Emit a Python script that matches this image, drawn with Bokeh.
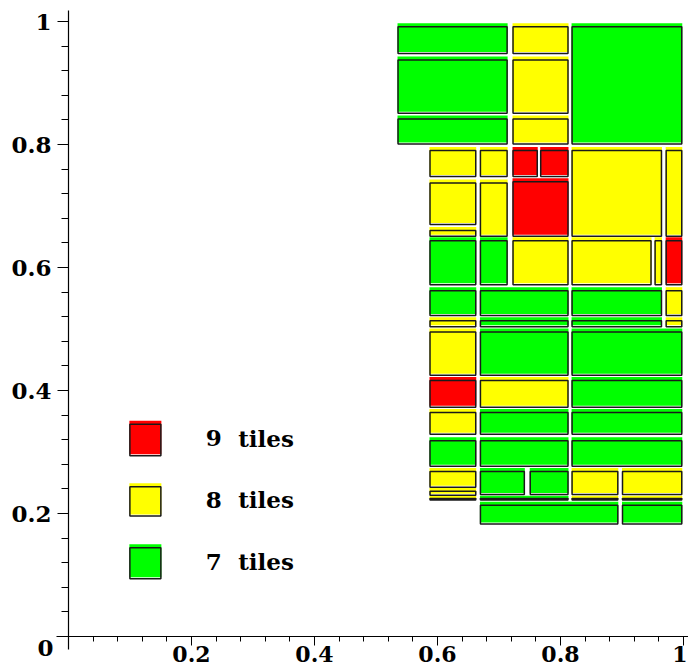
from bokeh.plotting import figure
from bokeh.models import Range1d, FixedTicker, Label, ColumnDataSource
from bokeh.core.properties import value
from bokeh.embed import file_html
from bokeh.resources import INLINE

# ---- data: mosaic cells (left, right, bottom, top) and number of tiles ----
cell_x0 = [0.535, 0.535, 0.535, 0.722, 0.722, 0.722, 0.818,
           0.587, 0.669, 0.722, 0.767, 0.818, 0.971,
           0.587, 0.587, 0.669, 0.722,
           0.587, 0.669, 0.722, 0.818, 0.953, 0.971,
           0.587, 0.669, 0.818, 0.971,
           0.587, 0.669, 0.818, 0.971,
           0.587, 0.669, 0.818,
           0.587, 0.669, 0.818,
           0.587, 0.669, 0.818,
           0.587, 0.669, 0.818,
           0.587, 0.669, 0.750, 0.818, 0.900,
           0.587, 0.587, 0.669, 0.818, 0.900,
           0.669, 0.900]
cell_x1 = [0.714, 0.714, 0.714, 0.813, 0.813, 0.813, 0.998,
           0.663, 0.714, 0.763, 0.813, 0.965, 0.998,
           0.663, 0.663, 0.714, 0.813,
           0.663, 0.714, 0.813, 0.948, 0.965, 0.998,
           0.663, 0.813, 0.965, 0.998,
           0.663, 0.813, 0.965, 0.998,
           0.663, 0.813, 0.998,
           0.663, 0.813, 0.998,
           0.663, 0.813, 0.998,
           0.663, 0.813, 0.998,
           0.663, 0.742, 0.813, 0.894, 0.998,
           0.663, 0.663, 0.813, 0.894, 0.998,
           0.894, 0.998]
cell_y0 = [0.947, 0.850, 0.800, 0.947, 0.850, 0.800, 0.800,
           0.747, 0.747, 0.747, 0.747, 0.650, 0.650,
           0.669, 0.650, 0.650, 0.650,
           0.571, 0.571, 0.571, 0.571, 0.571, 0.571,
           0.521, 0.521, 0.521, 0.521,
           0.503, 0.503, 0.503, 0.503,
           0.424, 0.424, 0.424,
           0.372, 0.372, 0.372,
           0.328, 0.328, 0.328,
           0.276, 0.276, 0.276,
           0.242, 0.230, 0.230, 0.230, 0.230,
           0.229, 0.221, 0.221, 0.221, 0.221,
           0.182, 0.182]
cell_y1 = [0.997, 0.943, 0.847, 0.997, 0.943, 0.847, 0.997,
           0.796, 0.796, 0.796, 0.796, 0.796, 0.796,
           0.743, 0.666, 0.743, 0.745,
           0.649, 0.649, 0.649, 0.649, 0.649, 0.649,
           0.568, 0.568, 0.568, 0.568,
           0.519, 0.519, 0.519, 0.519,
           0.501, 0.501, 0.501,
           0.422, 0.422, 0.422,
           0.370, 0.370, 0.370,
           0.324, 0.324, 0.324,
           0.274, 0.274, 0.274, 0.274, 0.274,
           0.242, 0.229, 0.229, 0.229, 0.229,
           0.219, 0.219]
cell_tiles = [7, 7, 7, 8, 8, 8, 7,
              8, 8, 9, 9, 8, 8,
              8, 8, 8, 9,
              7, 7, 8, 8, 8, 9,
              7, 7, 7, 8,
              8, 7, 7, 8,
              8, 7, 7,
              9, 8, 7,
              8, 7, 7,
              7, 7, 7,
              8, 7, 7, 8, 8,
              8, 8, 7, 8, 8,
              7, 7]

# legend
legend_tiles = [9, 8, 7]
legend_numbers = ["9", "8", "7"]
legend_word = "tiles"
legend_x0 = [0.099, 0.099, 0.099]
legend_x1 = [0.151, 0.151, 0.151]
legend_y0 = [0.293, 0.195, 0.093]
legend_y1 = [0.351, 0.249, 0.150]

# axes ticks
major_ticks = [0.2, 0.4, 0.6, 0.8, 1.0]
minor_ticks = [round(0.04 * i, 2) for i in range(26)]

COLORS = {9: "#ff0000", 8: "#ffff00", 7: "#00ff00"}

PX = 1.0 / 615  # one screen pixel in data units

p = figure(width=688, height=671, output_backend="svg", toolbar_location=None,
           x_range=Range1d(-68 * PX, 620 * PX), y_range=Range1d(-35 * PX, 636 * PX),
           min_border=0, min_border_left=0, min_border_right=0,
           min_border_top=0, min_border_bottom=0)
p.grid.visible = False
p.outline_line_color = None
p.background_fill_color = "white"


def draw_cells(x0, x1, y0, y1, tiles):
    fills = ColumnDataSource(dict(
        left=x0, right=x1,
        bottom=[b + 2 * PX for b in y0], top=y1,
        color=[COLORS[t] for t in tiles]))
    p.quad(left="left", right="right", bottom="bottom", top="top",
           fill_color="color", line_color=None, source=fills)
    outl = ColumnDataSource(dict(
        left=[a + 0.5 * PX for a in x0], right=[b - 0.5 * PX for b in x1],
        bottom=[b + 0.5 * PX for b in y0],
        top=[max(t - 3.5 * PX, b + 2 * PX) for b, t in zip(y0, y1)]))
    p.quad(left="left", right="right", bottom="bottom", top="top",
           fill_color=None, line_color="#1a1a1a", line_width=1.5, source=outl)


draw_cells(cell_x0, cell_x1, cell_y0, cell_y1, cell_tiles)
draw_cells(legend_x0, legend_x1, legend_y0, legend_y1, legend_tiles)

ycent = [(a + b) / 2 for a, b in zip(legend_y0, legend_y1)]
p.text(x=[0.223] * 3, y=ycent, text=legend_numbers,
       text_font=value("DejaVu Serif"), text_font_style="bold",
       text_font_size="23px", text_align="left", text_baseline="middle",
       text_color="black")
p.text(x=[0.276] * 3, y=ycent, text=[legend_word] * 3,
       text_font=value("DejaVu Serif"), text_font_style="bold",
       text_font_size="23px", text_align="left", text_baseline="middle",
       text_color="black")

# axes crossing at the origin
for ax in (p.xaxis[0], p.yaxis[0]):
    ax.fixed_location = 0
    ax.ticker = FixedTicker(ticks=major_ticks, minor_ticks=minor_ticks)
    ax.major_label_text_font = "DejaVu Serif"
    ax.major_label_text_font_style = "bold"
    ax.major_label_text_color = "black"
    ax.axis_line_color = "black"
    ax.axis_line_width = 1.2
    ax.major_tick_line_color = "black"
    ax.minor_tick_line_color = "black"
    ax.major_tick_in = 0
    ax.minor_tick_in = 0

p.xaxis.major_label_text_font_size = "22px"
p.yaxis.major_label_text_font_size = "23px"
p.xaxis.major_tick_out = 9
p.xaxis.minor_tick_out = 5
p.xaxis.major_label_standoff = 0
p.xaxis.bounds = (-0.0195, 1.008)
p.xaxis.major_label_overrides = {1.0: ""}
p.yaxis.major_tick_out = 11
p.yaxis.minor_tick_out = 7
p.yaxis.major_label_standoff = 6
p.yaxis.bounds = (-0.021, 1.018)

label_style = dict(text_font="DejaVu Serif", text_font_style="bold",
                   text_color="black")
# y-axis "0", placed below-left of the origin as in the reference
p.add_layout(Label(x=-23 * PX, y=-11 * PX, text="0", text_align="center",
                   text_baseline="middle", text_font_size="23px", **label_style))
# x-axis "1", kept inside the picture's right edge
p.add_layout(Label(x=619 * PX, y=-9 * PX, text="1", text_align="right",
                   text_baseline="top", text_font_size="22px", **label_style))

open("out.html", "w").write(file_html(p, INLINE))
